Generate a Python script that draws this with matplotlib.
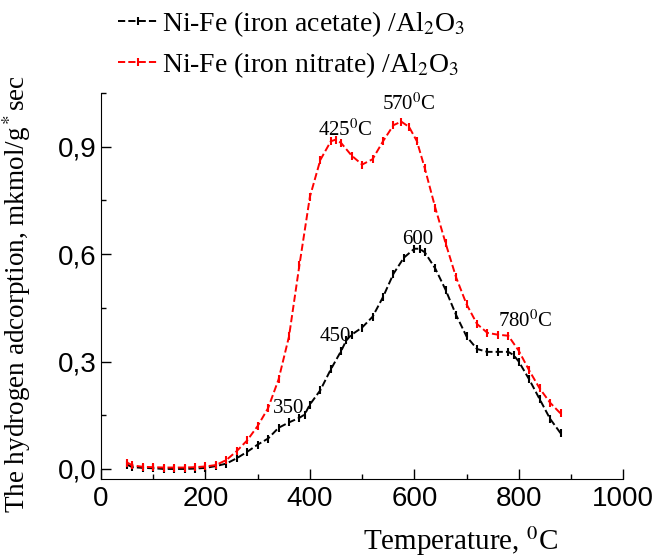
import matplotlib
matplotlib.use("Agg")
import matplotlib.pyplot as plt
from matplotlib.ticker import MultipleLocator, FuncFormatter

# Temperatures (C) and adsorption values
temp_acetate = [50, 60, 80, 100, 120, 140, 160, 180, 200, 220, 240, 260, 280,
                300, 320, 340, 360, 380, 390, 400, 420, 440, 460, 470, 480,
                500, 520, 540, 560, 580, 600, 610, 620, 640, 660, 680, 700,
                720, 740, 760, 780, 790, 800, 820, 840, 860, 880]
h2_acetate = [0.012, 0.005, 0.003, 0.002, 0.0, 0.0, 0.0, 0.001, 0.003, 0.008,
              0.015, 0.03, 0.048, 0.068, 0.085, 0.115, 0.13, 0.143, 0.152,
              0.18, 0.22, 0.278, 0.33, 0.36, 0.375, 0.395, 0.425, 0.48, 0.545,
              0.59, 0.615, 0.615, 0.605, 0.56, 0.5, 0.43, 0.37, 0.335, 0.327,
              0.327, 0.327, 0.318, 0.3, 0.25, 0.195, 0.14, 0.1]

temp_nitrate = [50, 60, 80, 100, 120, 140, 160, 180, 200, 220, 240, 260, 280,
                300, 320, 340, 360, 380, 400, 420, 440, 450, 460, 480, 500,
                520, 540, 560, 575, 590, 605, 620, 640, 660, 680, 700, 720,
                740, 760, 780, 800, 820, 840, 860, 880]
h2_nitrate = [0.018, 0.01, 0.006, 0.005, 0.004, 0.004, 0.004, 0.005, 0.007,
              0.011, 0.025, 0.05, 0.08, 0.12, 0.17, 0.25, 0.37, 0.57, 0.76,
              0.863, 0.915, 0.92, 0.91, 0.875, 0.85, 0.865, 0.915, 0.96, 0.97,
              0.955, 0.915, 0.84, 0.73, 0.63, 0.535, 0.46, 0.405, 0.38, 0.375,
              0.372, 0.33, 0.275, 0.225, 0.185, 0.155]

# peak labels: text, x, y
peak_labels = ["425$^0$C", "570$^0$C", "600", "450", "350", "780$^0$C"]
peak_x = [467, 590, 607, 448, 360, 812]
peak_y = [0.947, 1.02, 0.64, 0.369, 0.168, 0.413]

y_ticks = [0.0, 0.3, 0.6, 0.9]

plt.rcParams["mathtext.fontset"] = "stix"
serif = "Liberation Serif"
sans = "Liberation Sans"

fig = plt.figure(figsize=(6.56, 5.58), dpi=100)
ax = fig.add_axes([0.154, 0.1416, 0.796, 0.6918])

ax.plot(temp_acetate, h2_acetate, color="black", ls="--", lw=1.4,
        marker="|", ms=6, mew=1.5,
        label="Ni-Fe (iron acetate) /Al$_2$O$_3$")
ax.plot(temp_nitrate, h2_nitrate, color="red", ls="--", lw=1.4,
        marker="|", ms=6, mew=1.5,
        label="Ni-Fe (iron nitrate) /Al$_2$O$_3$")

for txt, x, y in zip(peak_labels, peak_x, peak_y):
    ax.text(x, y, txt, ha="center", va="center", fontsize=15, family=serif)

ax.set_xlim(0, 1000)
ax.set_ylim(-0.028, 1.05)
ax.xaxis.set_major_locator(MultipleLocator(200))
ax.xaxis.set_minor_locator(MultipleLocator(100))
ax.set_yticks(y_ticks)
ax.yaxis.set_minor_locator(MultipleLocator(0.15))
ax.yaxis.set_major_formatter(FuncFormatter(lambda v, p: f"{v:.1f}".replace(".", ",")))
ax.tick_params(which="major", direction="in", length=7, width=1, labelsize=20)
ax.tick_params(which="minor", direction="in", length=3.5, width=1)
ax.tick_params(axis="x", pad=5)
for lbl in ax.get_xticklabels() + ax.get_yticklabels():
    lbl.set_family(sans)

ax.spines["top"].set_visible(False)
ax.spines["right"].set_visible(False)

ax.set_xlabel("Temperature, $^0$C", fontsize=21, family=serif)
ax.xaxis.set_label_coords(0.688, -0.118)
ax.set_ylabel("The hydrogen adcorption, mkmol/g$^*$sec", fontsize=19.5, family=serif)
ax.yaxis.set_label_coords(-0.13, 0.48)

fig.legend(loc="upper left", bbox_to_anchor=(118 / 656, 1 - 9 / 558),
           frameon=False, prop={"family": serif, "size": 20}, numpoints=1,
           borderpad=0, borderaxespad=0,
           handlelength=1.45, handletextpad=0.15, labelspacing=0.4)

fig.savefig("out.png", dpi=100)
